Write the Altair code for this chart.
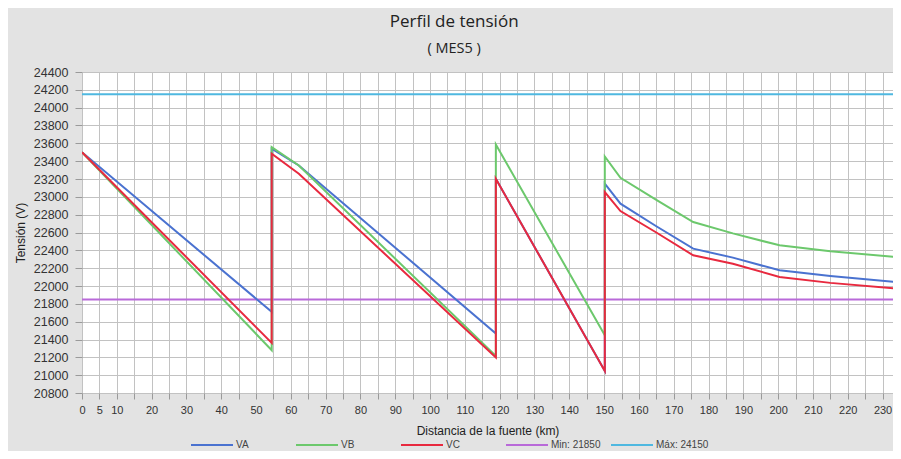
import altair as alt
import pandas as pd

# Distance along the feeder (km); repeated values are the vertical jumps
KM = [0, 54.5, 54.5, 62.3, 118.9, 118.9, 150.2, 150.2, 154.7, 165, 175.6, 187, 200.4, 215, 234]
VA = [23500, 21710, 23540, 23352, 21467, 23203, 21048, 23147, 22923, 22670, 22419, 22318, 22176, 22112, 22045]
VB = [23500, 21280, 23557, 23352, 21215, 23587, 21448, 23453, 23214, 22965, 22717, 22590, 22456, 22390, 22325]
VC = [23500, 21362, 23483, 23259, 21198, 23203, 21048, 23053, 22840, 22600, 22344, 22250, 22101, 22035, 21971]

LIMIT_NAMES = ["Min: 21850", "Máx: 24150"]
LIMIT_VALUES = [21850, 24150]

SERIES = ["VA", "VB", "VC"] + LIMIT_NAMES
COLORS = ["#4a72d0", "#6cc86c", "#e8293f", "#b96ad9", "#4fb8e0"]

X_TICKS = list(range(0, 235, 5))
Y_TICKS = list(range(20800, 24401, 200))

rows = []
for name, vals in (("VA", VA), ("VB", VB), ("VC", VC)):
    for i, (k, v) in enumerate(zip(KM, vals)):
        rows.append({"serie": name, "km": k, "v": v, "i": i})
df = pd.DataFrame(rows)
df_lim = pd.DataFrame({"serie": LIMIT_NAMES, "v": LIMIT_VALUES})

FONT = "Liberation Sans"

color = alt.Color(
    "serie:N",
    scale=alt.Scale(domain=SERIES, range=COLORS),
    legend=alt.Legend(
        title=None,
        orient="none",
        legendX=108,
        legendY=351,
        direction="horizontal",
        columns=5,
        symbolType="stroke",
        symbolSize=1764,
        symbolStrokeWidth=2,
        labelFontSize=10,
        labelFont=FONT,
        labelColor="#444444",
        labelOffset=2,
        gridAlign="all",
        columnPadding=3,
    ),
)

x = alt.X(
    "km:Q",
    scale=alt.Scale(domain=[0, 233], nice=False, zero=False),
    axis=alt.Axis(
        values=X_TICKS,
        labelExpr="datum.value <= 10 || datum.value % 10 == 0 ? datum.label : ''",
        labelFlush=False,
        labelOverlap=False,
        grid=True,
        gridColor="#c2c2c2",
        tickColor="#9a9a9a",
        tickSize=6,
        domain=False,
        labelPadding=5,
        labelFontSize=11,
        labelFont=FONT,
        labelColor="#333333",
        title="Distancia de la fuente (km)",
        titleFont=FONT,
        titleFontSize=12,
        titleFontWeight="normal",
        titleColor="#222222",
        titlePadding=10,
    ),
)

y_axis = alt.Axis(
    values=Y_TICKS,
    format="d",
    labelFlush=False,
    labelOverlap=False,
    grid=True,
    gridColor="#c2c2c2",
    tickColor="#9a9a9a",
    tickSize=7,
    domain=False,
    labelPadding=7,
    labelFontSize=12.5,
    labelFont=FONT,
    labelColor="#333333",
    title="Tensión (V)",
    titleFont=FONT,
    titleFontSize=12,
    titleFontWeight="normal",
    titleColor="#222222",
    titlePadding=6,
)
y_scale = alt.Scale(domain=[20800, 24400], nice=False, zero=False)

rules = alt.Chart(df_lim).mark_rule(strokeWidth=2).encode(
    y=alt.Y("v:Q", scale=y_scale, axis=y_axis),
    color=color,
)

lines = alt.Chart(df).mark_line(strokeWidth=2, clip=True).encode(
    x=x,
    y=alt.Y("v:Q", scale=y_scale, axis=y_axis),
    color=color,
    order=alt.Order("i:Q"),
)

chart = (
    alt.layer(rules, lines)
    .properties(
        width=811,
        height=321,
        title=alt.Title(
            "Perfil de tensión",
            subtitle="( MES5 )",
            anchor="middle",
            frame="bounds",
            font="Open Sans",
            fontSize=17,
            fontWeight="normal",
            color="#222222",
            subtitleFont="Open Sans",
            subtitleFontSize=14.5,
            subtitleColor="#222222",
            subtitlePadding=11,
            offset=10,
        ),
        autosize=alt.AutoSizeParams(type="none"),
        padding={"left": 74, "top": 64, "right": 0, "bottom": 58},
        background="#e3e3e3",
    )
    .configure_view(fill="white", stroke=None)
)

chart.save("out.html", embed_options={"renderer": "svg", "actions": False})
